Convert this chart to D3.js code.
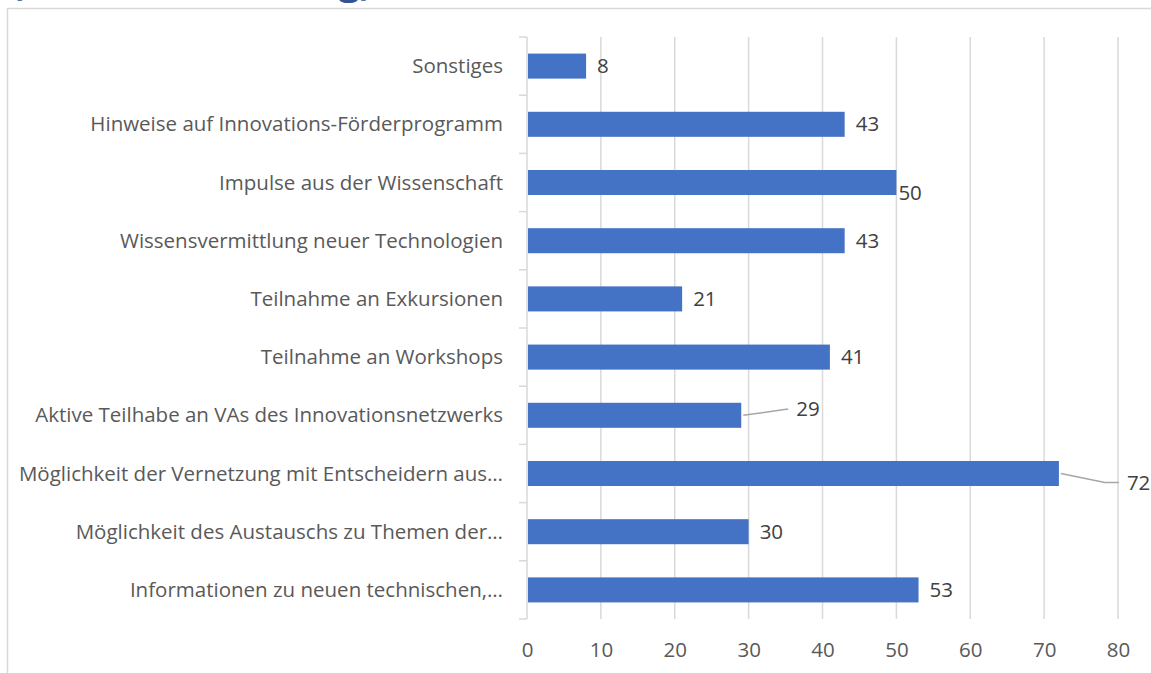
<!DOCTYPE html>
<html>
<head>
<meta charset="utf-8">
<script src="https://cdn.jsdelivr.net/npm/d3@7"></script>
<style>
  body { margin: 0; background: #fff; }
  svg { display: block; }
  text { font-family: "Open Sans", "Noto Sans", sans-serif; }
</style>
</head>
<body>
<svg id="chart" width="1151" height="673"></svg>
<script>
// categories, top to bottom as drawn
var categories = [
    'Sonstiges',
    'Hinweise auf Innovations-Förderprogramm',
    'Impulse aus der Wissenschaft',
    'Wissensvermittlung neuer Technologien',
    'Teilnahme an Exkursionen',
    'Teilnahme an Workshops',
    'Aktive Teilhabe an VAs des Innovationsnetzwerks',
    'Möglichkeit der Vernetzung mit Entscheidern aus…',
    'Möglichkeit des Austauschs zu Themen der…',
    'Informationen zu neuen technischen,…'
];
var values = [8, 43, 50, 43, 21, 41, 29, 72, 30, 53];
var xTicks = [0, 10, 20, 30, 40, 50, 60, 70, 80];
var titleText = '(Mehrfachnennung)';

// label nudges (px) for the few labels that were moved off the bar end
var labelShift = {
    2: { dx: -9, dy: 10 },
    6: { dx: 44, dy: -6, leader: 10 },
    7: { dx: 57, dy: 9, leader: 22 }
};

var svg = d3.select('#chart');

var plotLeft = 527, plotRight = 1118, plotTop = 37, plotBottom = 619;
var fontSize = '20.5px';

var x = d3.scaleLinear().domain([0, 80]).range([plotLeft, plotRight]);
var y = d3.scaleBand().domain(categories).range([plotTop, plotBottom])
    .paddingInner(0.57).paddingOuter(0.285);

// chart frame (runs off the page on the right and bottom)
svg.append('rect')
    .attr('x', 7.5)
    .attr('y', 8.5)
    .attr('width', 1200)
    .attr('height', 700)
    .style('fill', 'none')
    .style('stroke', '#d9d9d9')
    .style('stroke-width', '1.5px');

// clipped title at the very top
svg.append('text')
    .attr('x', 11)
    .attr('y', -4)
    .attr('textLength', 361)
    .attr('lengthAdjust', 'spacingAndGlyphs')
    .text(titleText)
    .style('font-size', '30px')
    .style('font-weight', 'bold')
    .style('fill', '#2f5597');

// gridlines
svg.append('g')
    .selectAll('line')
    .data(xTicks.slice(1))
    .join('line')
    .attr('x1', function(d) { return x(d); })
    .attr('x2', function(d) { return x(d); })
    .attr('y1', plotTop)
    .attr('y2', plotBottom)
    .style('stroke', '#d9d9d9')
    .style('stroke-width', '1.5px');

// x axis labels
var xAxis = svg.append('g')
    .attr('transform', 'translate(0,' + plotBottom + ')')
    .call(d3.axisBottom(x).tickValues(xTicks).tickSize(0).tickPadding(23));
xAxis.select('.domain').remove();
xAxis.selectAll('text')
    .style('font-size', fontSize)
    .style('font-family', '"Open Sans", sans-serif')
    .style('fill', '#595959');

// y axis: line plus small ticks between categories
var yAxisG = svg.append('g');
yAxisG.append('line')
    .attr('x1', plotLeft).attr('x2', plotLeft)
    .attr('y1', plotTop).attr('y2', plotBottom)
    .style('stroke', '#d9d9d9')
    .style('stroke-width', '1.5px');
var step = y.step();
yAxisG.selectAll('line.tick')
    .data(d3.range(categories.length + 1))
    .join('line')
    .attr('class', 'tick')
    .attr('x1', plotLeft - 8).attr('x2', plotLeft)
    .attr('y1', function(i) { return plotTop + i * step; })
    .attr('y2', function(i) { return plotTop + i * step; })
    .style('stroke', '#d9d9d9')
    .style('stroke-width', '1.5px');

yAxisG.selectAll('text')
    .data(categories)
    .join('text')
    .attr('x', 503)
    .attr('y', function(d) { return y(d) + y.bandwidth() / 2; })
    .attr('dy', '0.35em')
    .attr('text-anchor', 'end')
    .text(function(d) { return d; })
    .style('font-size', fontSize)
    .style('fill', '#595959');

// bars
svg.append('g')
    .selectAll('rect')
    .data(values)
    .join('rect')
    .attr('x', x(0) + 1)
    .attr('y', function(d, i) { return y(categories[i]); })
    .attr('width', function(d) { return x(d) - x(0) - 1; })
    .attr('height', y.bandwidth())
    .style('fill', '#4472c4');

// value labels
var labels = svg.append('g');
values.forEach(function(v, i) {
    var cy = y(categories[i]) + y.bandwidth() / 2;
    var ex = x(v);
    var s = labelShift[i] || { dx: 0, dy: 0 };
    var lx = ex + 11 + s.dx;
    var ly = cy + s.dy;

    if (s.leader) {
        labels.append('path')
            .attr('d', 'M' + (ex + 2) + ' ' + cy + ' L ' + (lx - s.leader) + ' ' + ly + ' L ' + (lx - 8) + ' ' + ly)
            .style('fill', 'none')
            .style('stroke', '#a6a6a6')
            .style('stroke-width', '1.5px');
    }

    labels.append('text')
        .attr('x', lx)
        .attr('y', ly)
        .attr('dy', '0.35em')
        .text(v)
        .style('font-size', fontSize)
        .style('fill', '#404040');
});
</script>
</body>
</html>
